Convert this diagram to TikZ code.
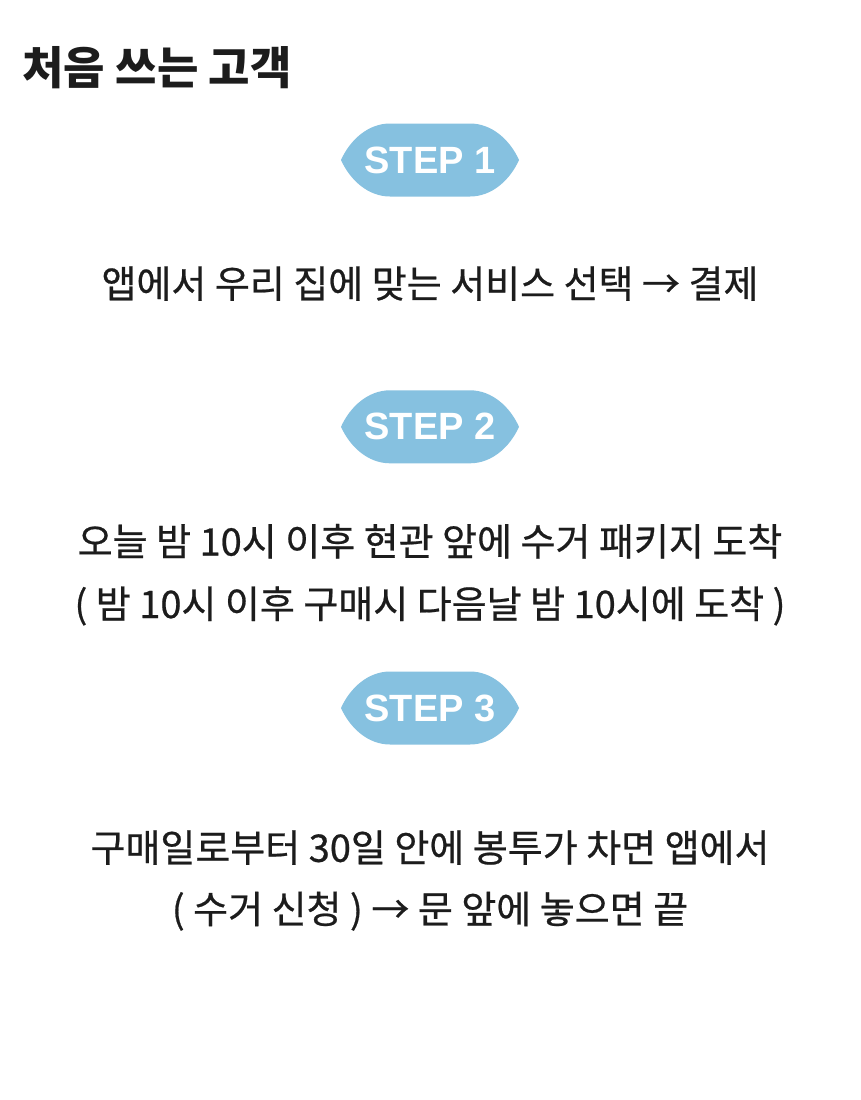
\documentclass[tikz,border=0pt]{standalone}
\usepackage{fontspec}
\setmainfont{Noto Sans CJK KR}
\newfontfamily\bodyfont[FakeBold=0.6]{Noto Sans CJK KR}
\newfontfamily\badgefont{Liberation Sans}
\usetikzlibrary{positioning, backgrounds}
\definecolor{stepblue}{RGB}{134,193,224}
\definecolor{inkgray}{RGB}{28,28,28}

\begin{document}
\begin{tikzpicture}[x=1pt, y=-1pt,
    badge/.style={minimum width=180pt, minimum height=73pt, inner sep=0pt,
        text=white, font=\badgefont\bfseries\fontsize{38}{44}\selectfont},
    line/.style={inner sep=0pt, text height=33.4pt, text depth=4.6pt,
        text=inkgray, font=\bodyfont\fontsize{38}{46}\selectfont}
  ]
  \useasboundingbox (0,0) rectangle (860,1100);
  \node[anchor=west, text=inkgray, font=\bfseries\fontsize{45}{54}\selectfont]
    (title) at (19,68) {처음 쓰는 고객};
  % step 1
  \node[badge] (step1) at (430,160) {STEP 1};
  \node[line, below=67.5pt of step1] (desc1) {앱에서 우리 집에 맞는 서비스 선택 → 결제};
  % step 2
  \node[badge, below=87.5pt of desc1] (step2) {STEP 2};
  \node[line, below=58.5pt of step2] (desc2a) {오늘 밤 10시 이후 현관 앞에 수거 패키지 도착};
  \node[line, below=24pt of desc2a] (desc2b) {( 밤 10시 이후 구매시 다음날 밤 10시에 도착 )};
  % step 3
  \node[badge, below=48.5pt of desc2b] (step3) {STEP 3};
  \node[line, below=83.5pt of step3] (desc3a) {구매일로부터 30일 안에 봉투가 차면 앱에서};
  \node[line, below=23pt of desc3a] (desc3b) {( 수거 신청 ) → 문 앞에 놓으면 끝};
  % badge backgrounds
  \begin{scope}[on background layer]
    \fill[white] (0,0) rectangle (860,1100);
    \foreach \s in {step1, step2, step3}
      \fill[stepblue, shift={(\s.center)}, x=1pt, y=1pt]
        (-40,36.5) -- (40,36.5) .. controls (62,36.5) and (80,20) .. (89,0)
        .. controls (80,-20) and (62,-36.5) .. (40,-36.5) -- (-40,-36.5)
        .. controls (-62,-36.5) and (-80,-20) .. (-89,0)
        .. controls (-80,20) and (-62,36.5) .. (-40,36.5) -- cycle;
  \end{scope}
\end{tikzpicture}
\end{document}
